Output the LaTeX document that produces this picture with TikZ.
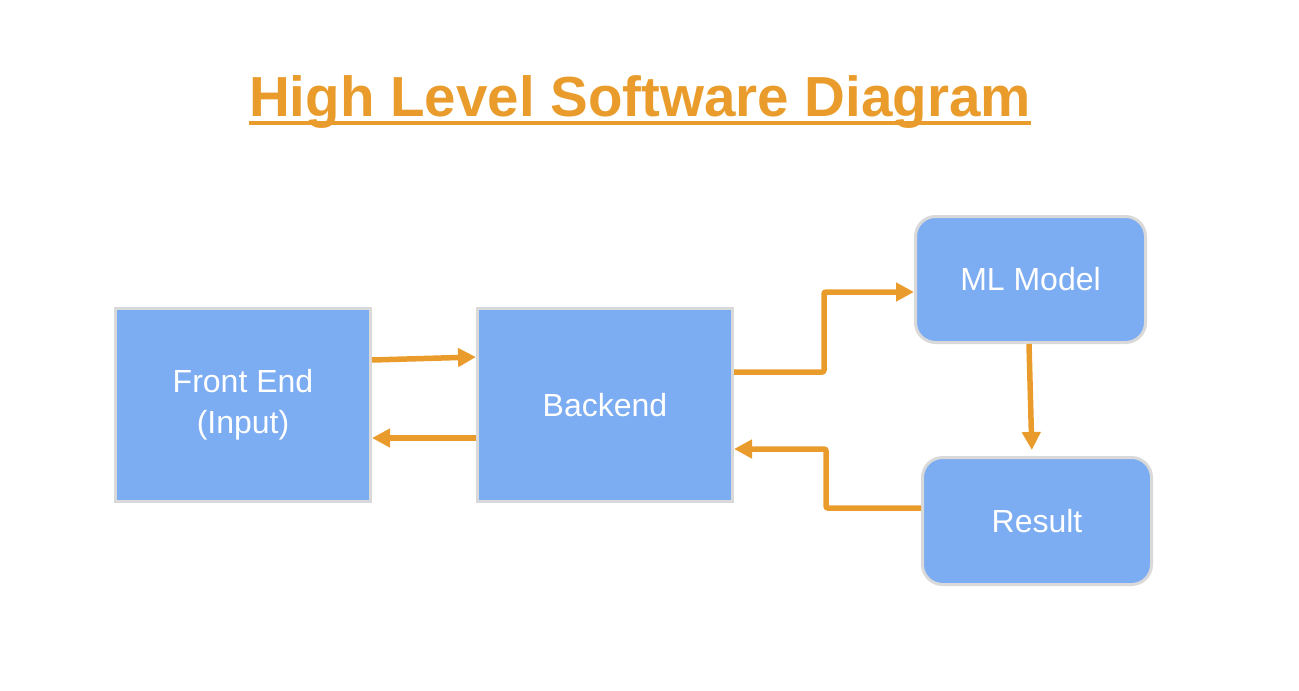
\documentclass[tikz,border=0pt]{standalone}
\usepackage{fontspec}
\setmainfont{Liberation Sans}
\usetikzlibrary{arrows.meta}
\definecolor{boxblue}{HTML}{7CACF1}
\definecolor{boxgray}{HTML}{D9D9D9}
\definecolor{arrorange}{HTML}{E99C2B}
\tikzset{
  sqbox/.style={draw=boxgray, line width=3pt, fill=boxblue, text=white,
    align=center, font=\fontsize{32}{41}\selectfont, inner sep=0pt},
  rdbox/.style={sqbox, rounded corners=20pt},
  flow/.style={draw=arrorange, line width=5.5pt, rounded corners=2pt,
    -{Triangle[length=18pt,width=18pt]}},
}
\begin{document}
\begin{tikzpicture}[x=1pt,y=-1pt]
\useasboundingbox (0,0) rectangle (1299,691);
\node[font=\fontsize{56.5}{66}\selectfont\bfseries, text=arrorange, inner sep=0pt, anchor=base]
  (title) at (640,116) {High Level Software Diagram};
\draw[arrorange, line width=3.5pt] ([yshift=-7pt]title.base west) -- ([yshift=-7pt]title.base east);

\node[sqbox, minimum width=255, minimum height=193] (fe) at (243,405) {Front End\\(Input)};
\node[sqbox, minimum width=255, minimum height=193] (be) at (605,405) {Backend};
\node[rdbox, minimum width=230, minimum height=126] (ml) at (1030.5,279.5) {ML Model};
\node[rdbox, minimum width=229, minimum height=127] (res) at (1037,521) {Result};

\draw[flow] ([yshift=45pt]fe.east) -- ([yshift=48pt]be.west);
\draw[flow] ([yshift=-33pt]be.west) -- ([yshift=-33pt]fe.east);
\draw[flow] ([yshift=33pt]be.east) -- ++(90,0) |- ([yshift=-12.5pt]ml.west);
\draw[flow] ([yshift=13pt]res.west) -- ++(-95,0) |- ([yshift=-44pt]be.east);
\draw[flow, shorten >=6pt] ([xshift=-1.5pt]ml.south) -- ([xshift=-5pt]res.north);
\end{tikzpicture}
\end{document}
